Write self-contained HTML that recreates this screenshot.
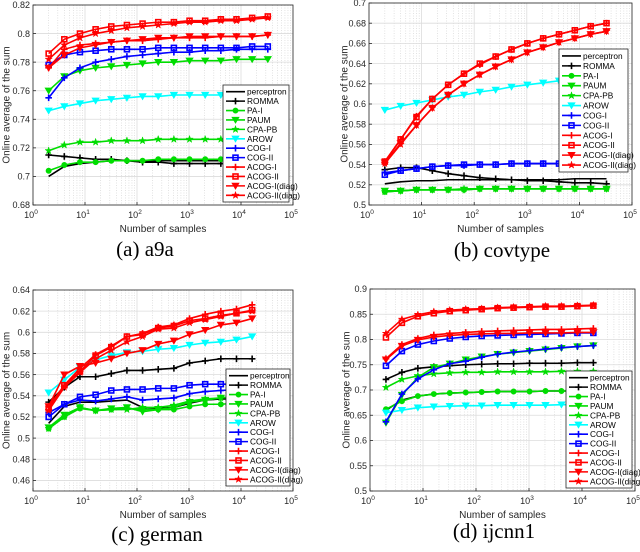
<!DOCTYPE html>
<html><head><meta charset="utf-8">
<style>
body{margin:0;background:#fff;}
svg{display:block;font-family:"Liberation Sans",sans-serif;}
</style></head>
<body>
<svg id="fig" width="640" height="552" viewBox="0 0 640 552" xmlns="http://www.w3.org/2000/svg"></svg>
<script>
// ---- data ----
const xSamples15 = [2,4,8,16,32,64,128,256,512,1024,2048,4096,8192,16384,32768];
const xSamples14 = [2,4,8,16,32,64,128,256,512,1024,2048,4096,8192,16384];
const seriesNames = ["perceptron","ROMMA","PA-I","PAUM","CPA-PB","AROW","COG-I","COG-II","ACOG-I","ACOG-II","ACOG-I(diag)","ACOG-II(diag)"];
const xTickExps = [0,1,2,3,4,5];

// (a) a9a
const aPerceptron=[.700,.707,.709,.710,.711,.711,.711,.711,.711,.711,.711,.711,.711,.711,.711];
const aRomma=[.715,.714,.713,.712,.712,.711,.710,.710,.709,.709,.709,.709,.709,.709,.709];
const aPA1=[.704,.708,.710,.710,.711,.711,.711,.712,.712,.712,.712,.712,.712,.712,.712];
const aPaum=[.760,.770,.774,.776,.777,.778,.779,.780,.780,.781,.781,.781,.782,.782,.782];
const aCpapb=[.718,.722,.724,.724,.725,.725,.725,.726,.726,.726,.726,.726,.726,.726,.726];
const aArow=[.746,.749,.751,.753,.754,.755,.756,.756,.757,.757,.757,.757,.757,.758,.758];
const aCog1=[.755,.769,.776,.780,.782,.784,.785,.786,.787,.787,.788,.788,.789,.789,.789];
const aCog2=[.778,.785,.787,.788,.789,.789,.789,.790,.790,.790,.790,.790,.790,.791,.791];
const aAcog1=[.776,.789,.792,.793,.794,.795,.795,.796,.797,.797,.797,.798,.798,.798,.799];
const aAcog2=[.786,.796,.800,.803,.805,.806,.807,.808,.808,.809,.809,.810,.810,.811,.812];
const aAcog1d=[.776,.785,.790,.792,.794,.795,.796,.797,.797,.798,.798,.798,.798,.798,.799];
const aAcog2d=[.782,.792,.797,.800,.802,.804,.805,.806,.807,.808,.808,.809,.809,.810,.811];
const aYTicks=[0.68,0.70,0.72,0.74,0.76,0.78,0.80,0.82];

// (b) covtype
const bPerceptron=[.521,.523,.524,.524,.525,.525,.525,.525,.525,.525,.525,.525,.526,.526,.526];
const bRomma=[.535,.537,.537,.534,.531,.529,.527,.526,.525,.524,.524,.523,.522,.522,.521];
const bPA1=[.513,.514,.515,.515,.515,.515,.516,.516,.516,.516,.516,.516,.516,.516,.516];
const bPaum=[.514,.514,.515,.515,.515,.515,.516,.516,.516,.516,.516,.516,.516,.516,.516];
const bCpapb=[.513,.514,.515,.515,.515,.516,.516,.516,.516,.516,.516,.516,.516,.516,.516];
const bArow=[.594,.598,.601,.604,.607,.609,.612,.614,.617,.619,.621,.623,.624,.626,.627];
const bCog1=[.532,.534,.536,.538,.539,.539,.540,.540,.541,.541,.541,.541,.541,.541,.541];
const bCog2=[.530,.534,.536,.538,.539,.540,.540,.540,.541,.541,.541,.541,.541,.541,.541];
const bAcog1=[.543,.565,.588,.605,.619,.630,.639,.647,.654,.660,.665,.669,.673,.677,.680];
const bAcog2=[.543,.565,.587,.605,.619,.630,.640,.647,.654,.660,.665,.669,.673,.677,.680];
const bAcog1d=[.542,.561,.579,.596,.609,.620,.629,.637,.644,.651,.656,.661,.665,.669,.672];
const bAcog2d=[.541,.560,.579,.596,.609,.620,.629,.637,.644,.651,.656,.661,.665,.669,.672];
const bYTicks=[0.50,0.52,0.54,0.56,0.58,0.60,0.62,0.64,0.66,0.68,0.70];

// (c) german
const cPerceptron=[.514,.530,.534,.534,.535,.536,.529,.528,.529,.533,.536,.537,.537,.537];
const cRomma=[.534,.548,.558,.558,.561,.564,.564,.565,.566,.571,.573,.575,.575,.575];
const cPA1=[.509,.520,.528,.526,.527,.528,.527,.527,.527,.530,.532,.532,.533,.533];
const cPaum=[.510,.522,.529,.526,.528,.529,.525,.527,.529,.534,.536,.538,.539,.539];
const cCpapb=[.509,.520,.529,.526,.527,.527,.529,.529,.531,.535,.537,.538,.539,.540];
const cArow=[.543,.555,.567,.574,.578,.581,.582,.584,.585,.588,.590,.591,.593,.596];
const cCog1=[.524,.532,.536,.535,.537,.539,.536,.537,.538,.542,.544,.545,.546,.546];
const cCog2=[.520,.532,.539,.541,.545,.546,.546,.547,.547,.550,.551,.551,.551,.551];
const cAcog1=[.530,.550,.566,.579,.587,.596,.599,.605,.607,.613,.617,.620,.622,.626];
const cAcog2=[.528,.550,.563,.578,.586,.596,.598,.604,.606,.611,.613,.616,.618,.621];
const cAcog1d=[.530,.560,.568,.571,.575,.580,.583,.589,.592,.598,.602,.607,.609,.613];
const cAcog2d=[.526,.548,.562,.575,.583,.591,.596,.603,.604,.609,.612,.615,.618,.620];
const cYTicks=[0.46,0.48,0.50,0.52,0.54,0.56,0.58,0.60,0.62,0.64];

// (d) ijcnn1
const dPerceptron=[.660,.680,.688,.692,.694,.695,.696,.697,.697,.697,.698,.698,.698,.698];
const dRomma=[.721,.735,.743,.746,.748,.750,.751,.752,.752,.753,.753,.753,.754,.754];
const dPA1=[.662,.678,.688,.692,.694,.695,.696,.697,.697,.697,.698,.698,.698,.698];
const dPaum=[.635,.690,.725,.745,.752,.760,.766,.771,.774,.777,.780,.783,.786,.788];
const dCpapb=[.705,.721,.728,.732,.734,.735,.735,.736,.736,.736,.736,.737,.737,.737];
const dArow=[.655,.660,.665,.667,.668,.669,.669,.670,.670,.670,.670,.671,.671,.671];
const dCog1=[.637,.692,.722,.740,.752,.757,.765,.771,.775,.778,.781,.784,.786,.788];
const dCog2=[.748,.777,.790,.797,.802,.805,.807,.808,.809,.810,.811,.812,.813,.813];
const dAcog1=[.762,.790,.802,.809,.812,.814,.816,.817,.818,.819,.820,.820,.821,.822];
const dAcog2=[.804,.833,.846,.852,.856,.858,.860,.862,.863,.864,.865,.865,.866,.867];
const dAcog1d=[.760,.787,.799,.805,.808,.810,.811,.812,.812,.813,.813,.813,.814,.814];
const dAcog2d=[.812,.840,.849,.855,.858,.860,.861,.863,.864,.865,.866,.866,.867,.868];
const dYTicks=[0.50,0.55,0.60,0.65,0.70,0.75,0.80,0.85,0.90];

// ---- styles (not data) ----
const styles=[
 {c:"#000",m:"none"},{c:"#000",m:"plus"},{c:"#00dd00",m:"circle"},{c:"#00dd00",m:"tri"},
 {c:"#00dd00",m:"star"},{c:"#00ffff",m:"tri"},{c:"#0000ff",m:"plus"},{c:"#0000ff",m:"square"},
 {c:"#ff0000",m:"plus"},{c:"#ff0000",m:"square"},{c:"#ff0000",m:"tri"},{c:"#ff0000",m:"star"}];

const panels=[
 {id:"a",cap:"(a) a9a",capX:145,capY:256,L:33,R:293,T:5,B:205,ymin:.68,ymax:.82,ticks:aYTicks,x:xSamples15,
  series:[aPerceptron,aRomma,aPA1,aPaum,aCpapb,aArow,aCog1,aCog2,aAcog1,aAcog2,aAcog1d,aAcog2d],
  leg:{x:223,y:85,w:66,h:117},ylx:6},
 {id:"b",cap:"(b) covtype",capX:502,capY:257,L:369,R:632,T:3,B:205,ymin:.5,ymax:.7,ticks:bYTicks,x:xSamples15,
  series:[bPerceptron,bRomma,bPA1,bPaum,bCpapb,bArow,bCog1,bCog2,bAcog1,bAcog2,bAcog1d,bAcog2d],
  leg:{x:559,y:49,w:69,h:123},ylx:344},
 {id:"c",cap:"(c) german",capX:157,capY:541,L:33,R:293,T:290,B:491,ymin:.45,ymax:.64,ticks:cYTicks,x:xSamples14,
  series:[cPerceptron,cRomma,cPA1,cPaum,cCpapb,cArow,cCog1,cCog2,cAcog1,cAcog2,cAcog1d,cAcog2d],
  leg:{x:226,y:369,w:64,h:117},ylx:6},
 {id:"d",cap:"(d) ijcnn1",capX:494,capY:538,L:370,R:635,T:289,B:491,ymin:.5,ymax:.9,ticks:dYTicks,x:xSamples14,
  series:[dPerceptron,dRomma,dPA1,dPaum,dCpapb,dArow,dCog1,dCog2,dAcog1,dAcog2,dAcog1d,dAcog2d],
  leg:{x:566,y:371,w:66,h:117},ylx:346}
];

const NS="http://www.w3.org/2000/svg";
const svg=document.getElementById("fig");
function mk(tag,attrs,parent){const e=document.createElementNS(NS,tag);for(const k in attrs)e.setAttribute(k,attrs[k]);(parent||svg).appendChild(e);return e;}
function fmt(v){return (+v.toFixed(2)).toString();}

function marker(g,type,x,y,c,s){
  if(type==="none")return;
  let e;
  if(type==="plus"){e=mk("path",{d:`M${x-s} ${y}H${x+s}M${x} ${y-s}V${y+s}`,stroke:c,"stroke-width":1.6,fill:"none"},g);}
  else if(type==="circle"){e=mk("circle",{cx:x,cy:y,r:s*0.75,fill:c,stroke:c},g);}
  else if(type==="square"){e=mk("rect",{x:x-s*0.75,y:y-s*0.75,width:s*1.5,height:s*1.5,fill:"none",stroke:c,"stroke-width":1.6},g);}
  else if(type==="tri"){e=mk("path",{d:`M${x-s} ${y-s*0.8}L${x+s} ${y-s*0.8}L${x} ${y+s*0.9}Z`,fill:c,stroke:c},g);}
  else if(type==="star"){let p="";for(let i=0;i<10;i++){const r=i%2?s*0.45:s*1.15;const a=-Math.PI/2+i*Math.PI/5;p+=(i?"L":"M")+(x+r*Math.cos(a)).toFixed(2)+" "+(y+r*Math.sin(a)).toFixed(2);}e=mk("path",{d:p+"Z",fill:c,stroke:c,"stroke-width":0.5},g);}
  
  
}

panels.forEach(p=>{
  const g=mk("g",{});
  
  
  const xs=v=>p.L+Math.log10(v)/5*(p.R-p.L);
  const ys=v=>p.B-(v-p.ymin)/(p.ymax-p.ymin)*(p.B-p.T);
  mk("rect",{x:p.L,y:p.T,width:p.R-p.L,height:p.B-p.T,fill:"#fff"},g);
  const grid=mk("g",{},g);
  
  
  for(let d=0;d<5;d++)for(let k=2;k<=9;k++){const X=xs(k*Math.pow(10,d));mk("line",{x1:X,x2:X,y1:p.T,y2:p.B,stroke:"#d0d0d0","stroke-width":0.6,"stroke-dasharray":"1,1.5"},grid);}
  xTickExps.forEach(e=>{const X=xs(Math.pow(10,e));mk("line",{x1:X,x2:X,y1:p.T,y2:p.B,stroke:"#dcdcdc","stroke-width":0.8},grid);});
  p.ticks.forEach(t=>{const Y=ys(t);mk("line",{x1:p.L,x2:p.R,y1:Y,y2:Y,stroke:"#dcdcdc","stroke-width":0.8},grid);});
  p.series.forEach((vals,i)=>{
    const st=styles[i];
    const sg=mk("g",{},g);
    
    
    const pts=vals.map((v,j)=>xs(p.x[j]).toFixed(2)+","+ys(v).toFixed(2)).join(" ");
    mk("polyline",{points:pts,fill:"none",stroke:st.c,"stroke-width":1.6},sg);
    vals.forEach((v,j)=>marker(sg,st.m,xs(p.x[j]),ys(v),st.c,3.3));
  });
  const box=mk("rect",{x:p.L,y:p.T,width:p.R-p.L,height:p.B-p.T,fill:"none",stroke:"#262626","stroke-width":0.8},g);
  
  
  p.ticks.forEach(t=>{const Y=ys(t);
    mk("line",{x1:p.L,x2:p.L+3,y1:Y,y2:Y,stroke:"#262626","stroke-width":0.8},g);
    const tx=mk("text",{x:p.L-3,y:Y+3.2,"text-anchor":"end","font-size":9,fill:"#262626"},g);tx.textContent=fmt(t);
    
    
  });
  xTickExps.forEach(e=>{const X=xs(Math.pow(10,e));
    mk("line",{x1:X,x2:X,y1:p.B,y2:p.B-3,stroke:"#262626","stroke-width":0.8},g);
    const tx=mk("text",{x:X-2,y:p.B+13,"text-anchor":"middle","font-size":9,fill:"#262626"},g);
    
    
    tx.textContent="10";
    const sp=mk("tspan",{dy:-4,"font-size":6.5},tx);sp.textContent=String(e);
  });
  const xl=mk("text",{x:(p.L+p.R)/2,y:p.B+27,"text-anchor":"middle","font-size":10,fill:"#262626"},g);
  xl.textContent="Number of samples";
  
  
  const yc=(p.T+p.B)/2;
  const yl=mk("text",{x:p.ylx,y:yc,"text-anchor":"middle","font-size":10,fill:"#262626",transform:`rotate(-90 ${p.ylx} ${yc})`,dy:3.5},g);
  yl.textContent="Online average of the sum";
  
  
  const L=p.leg;
  const lg=mk("g",{},g);
  
  
  mk("rect",{x:L.x,y:L.y,width:L.w,height:L.h,fill:"#fff",stroke:"#262626","stroke-width":0.8},lg);
  const rh=(L.h-4)/12;
  seriesNames.forEach((n,i)=>{
    const st=styles[i];const Y=L.y+2+rh*(i+0.5);
    const eg=mk("g",{},lg);
    
    
    mk("line",{x1:L.x+3,x2:L.x+22,y1:Y,y2:Y,stroke:st.c,"stroke-width":1.6},eg);
    marker(eg,st.m,L.x+12.5,Y,st.c,3.3);
    const t=mk("text",{x:L.x+24,y:Y+3,"font-size":8.3,fill:"#000"},eg);t.textContent=n;
  });
  const cap=mk("text",{x:p.capX,y:p.capY,"text-anchor":"middle","font-size":21,fill:"#000","font-family":"Liberation Serif, serif"},g);
  cap.textContent=p.cap;
  
  
});
</script>
</body></html>
